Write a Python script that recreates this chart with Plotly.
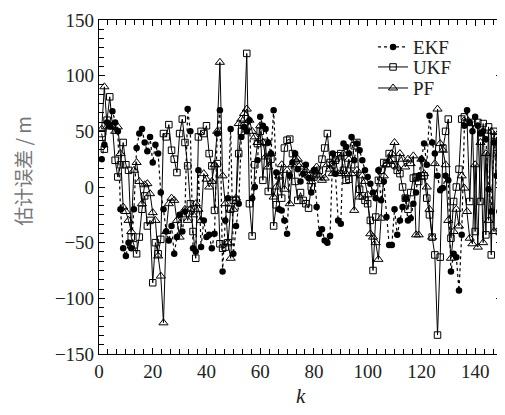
import plotly.graph_objects as go

k = list(range(1, 151))

ekf = [25, 38, 58, 55, 68, 58, 50, -20, -55, -62,
       -50, -55, -20, 35, 48, 52, 40, 32, 45, 22,
       38, 30, -5, -20, -40, -48, -35, -60, -45, -25,
       -40, -22, 70, 50, -55, -58, 15, -54, -30, -45,
       -43, -55, -42, 48, 69, -76, -30, -10, 52, -60,
       -35, -15, 45, 54, 50, 60, -10, 0, 24, 63,
       55, 52, 40, 30, 69, 13, -20, -21, -30, -42,
       10, 22, 30, 16, 5, 12, 20, 8, -5, 15,
       -18, -42, -38, -48, -50, -44, 30, 12, -30, -33,
       39, 36, 30, 45, 24, 39, 33, 24, 15, 9,
       3, -5, -10, 15, -12, 5, -27, -52, -52, -20,
       -43, -30, -18, -10, -30, -28, -15, -5, 10, 25,
       39, 20, 64, 40, 30, 10, -3, -1, 10, 6,
       -76, -60, -63, -93, -43, 55, 69, 58, 50, 63,
       55, 48, 50, 43, -2, -22, 40, 10, -22, -30]

ukf = [48, 34, 60, 81, 55, 24, 9, 20, 40, 20,
       15, -45, -52, -60, -45, -20, -8, -35, -30, -86,
       -50, -60, -47, 48, 45, 56, 33, 25, 13, 48,
       61, 40, 19, -15, -40, -64, 45, 50, 48, 55,
       30, 19, -21, 21, -51, -55, -54, -50, -20, -12,
       -12, 30, 50, 55, 120, -15, -44, 20, 39, 50,
       6, 40, -4, 25, -35, -16, 10, -10, 35, 42,
       43, 30, 5, -12, -5, -12, -15, -19, 0, 9,
       12, 15, 25, 35, 48, 22, 20, 24, 28, 30,
       15, 6, 7, 20, 37, 40, -2, -8, -12, -15,
       -30, -75, -27, 6, 15, 22, 21, 30, 24, 20,
       15, 12, 0, -10, -20, -5, 8, 9, 5, 10,
       10, -10, -25, -45, -61, -133, -63, 35, 50, 61,
       -46, -13, 0, 16, 61, 63, 58, -13, 58, -40,
       58, -13, 57, -43, 54, -61, 50, 30, -40, 45]

pf = [52, 90, 54, 55, 54, 50, 54, 30, -18, -22,
      -30, -40, 15, 22, 5, -15, 2, 3, -6, -23,
      -30, -62, -80, -122, -40, -15, -10, -12, -30, -45,
      -25, -20, -30, -20, -25, -15, -20, -30, 12, 7,
      0, 5, 20, 50, 112, 10, -15, -50, -64, -20,
      -10, 57, 61, 66, 70, 60, 50, 45, 40, 55,
      40, 27, 18, 30, -9, 0, 10, 20, -2, 15,
      -15, 20, 25, 25, 20, 18, 15, 10, 5, 15,
      18, 10, 6, 8, 20, 16, 12, 25, 12, 12,
      30, 12, 25, 12, -21, 15, -9, 10, 5, -7,
      -42, -45, -50, -65, -28, 10, 20, 24, 30, 40,
      18, 30, 25, 18, 25, 21, 28, -43, -43, 25,
      12, 0, -20, -45, 21, 70, 39, 33, 20, -30,
      -64, -40, -20, -35, 10, -1, -22, -46, -51, 20,
      -54, 40, -50, 30, -30, 50, -40, 45, 30, 70]

x_ticks = [0, 20, 40, 60, 80, 100, 120, 140]
y_ticks = [-150, -100, -50, 0, 50, 100, 150]

fig = go.Figure()
fig.add_trace(go.Scatter(
    x=k, y=ekf, name="EKF", mode="lines+markers", legend="legend",
    line=dict(color="black", width=1.2, dash="dot"),
    marker=dict(symbol="circle", size=6.5, color="black")))
fig.add_trace(go.Scatter(
    x=k, y=ukf, name="UKF", mode="lines+markers", legend="legend2",
    line=dict(color="black", width=1),
    marker=dict(symbol="square-open", size=6.5, color="black", line=dict(width=1))))
fig.add_trace(go.Scatter(
    x=k, y=pf, name="PF", mode="lines+markers", legend="legend3",
    line=dict(color="black", width=1),
    marker=dict(symbol="triangle-up-open", size=8, color="black", line=dict(width=1))))

axis_common = dict(
    showline=True, linecolor="black", linewidth=1.2, mirror="ticks",
    ticks="inside", ticklen=6, tickcolor="black", showgrid=False, zeroline=False,
    tickfont=dict(family="Liberation Serif", size=19, color="#222"),
)
fig.update_xaxes(range=[0, 150], tickvals=x_ticks,
                 minor=dict(tick0=0, dtick=20 / 6, ticks="inside", ticklen=5, tickcolor="black"),
                 **axis_common)
fig.update_yaxes(range=[-150, 150], tickvals=y_ticks,
                 ticktext=[str(v).replace("-", "\u2212") for v in y_ticks],
                 minor=dict(tick0=0, dtick=50 / 6, ticks="inside", ticklen=5, tickcolor="black"),
                 **axis_common)

# axis titles
fig.add_annotation(text="估计误差 / m", x=-0.19, xref="paper", xanchor="center",
                   y=0.55, yref="paper", yanchor="middle", textangle=-90,
                   showarrow=False,
                   font=dict(family="Noto Sans CJK SC", size=19, color="#777"))
fig.add_annotation(text="<i>k</i>", x=0.5, xref="paper", xanchor="center",
                   y=-0.125, yref="paper", yanchor="middle",
                   showarrow=False,
                   font=dict(family="Liberation Serif", size=21, color="#222"))

leg_common = dict(x=0.68, xanchor="left", yanchor="middle",
                  bgcolor="rgba(0,0,0,0)",
                  font=dict(family="Liberation Serif", size=19, color="#222"),
                  itemwidth=30)

# page body has an 8px margin, so the figure is drawn 8px in from the window edge
fig.update_layout(
    width=497, height=407,
    margin=dict(l=91, r=3, t=12, b=61),
    paper_bgcolor="white", plot_bgcolor="white",
    font=dict(family="Liberation Serif", color="#222"),
    legend=dict(y=0.919, **leg_common),
    legend2=dict(y=0.859, **leg_common),
    legend3=dict(y=0.796, **leg_common),
    showlegend=True,
)

fig.write_html("out.html")
